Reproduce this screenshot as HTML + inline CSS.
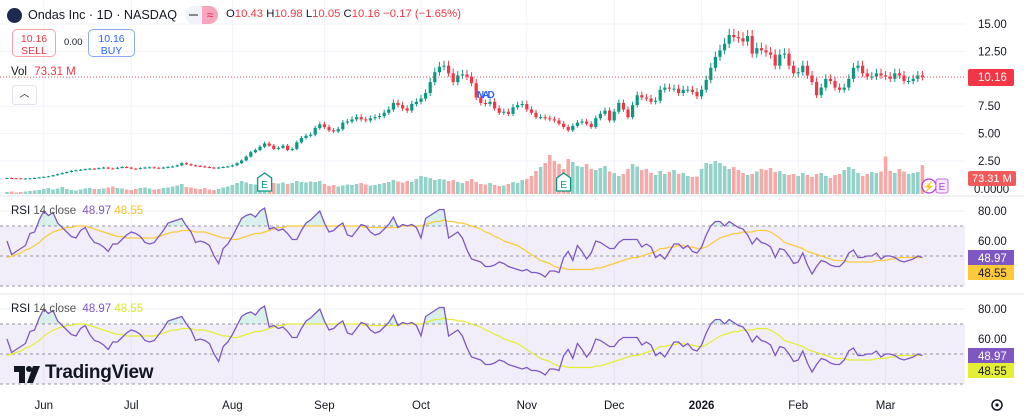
<!DOCTYPE html>
<html><head><meta charset="utf-8"><style>
html,body{margin:0;padding:0;background:#fff;}
body{width:1024px;height:417px;overflow:hidden;position:relative;font-family:"Liberation Sans",sans-serif;color:#131722;}
.abs{position:absolute;}
</style></head><body>
<svg id="chart" width="1024" height="417" viewBox="0 0 1024 417" xmlns="http://www.w3.org/2000/svg" style="position:absolute;left:0;top:0;font-family:'Liberation Sans',sans-serif;">
<g id="grid"></g>
<g id="vol"></g>
<g id="candles"></g>
<g id="rsi1"></g>
<g id="rsi2"></g>
<g id="axes"></g>
</svg>

<div class="abs" style="left:7px;top:8px;width:15px;height:15px;border-radius:50%;background:#1b2a4e;"></div>
<div class="abs" style="left:28px;top:8px;font-size:12.6px;color:#131722;white-space:nowrap;">Ondas Inc · 1D · NASDAQ</div>
<div class="abs" style="left:185px;top:6px;width:33px;height:18px;border-radius:9px;background:#f0f3fa;overflow:hidden;">
 <div style="position:absolute;right:0;top:0;width:16px;height:18px;background:#f7a5bd;color:#e91e63;font-size:12px;text-align:center;line-height:18px;">≈</div>
 <div style="position:absolute;left:4px;top:8px;width:9px;height:2px;background:#888;"></div>
</div>
<div class="abs" style="left:226px;top:8px;font-size:11.3px;color:#f23645;white-space:nowrap;">
<span style="color:#131722">O</span>10.43 <span style="color:#131722">H</span>10.98 <span style="color:#131722">L</span>10.05 <span style="color:#131722">C</span>10.16 −0.17 (−1.65%)</div>
<div class="abs" style="left:12px;top:29px;width:44px;height:28px;border:1px solid #f7a0a8;border-radius:5px;color:#f23645;font-size:10.5px;text-align:center;line-height:12px;padding-top:3px;box-sizing:border-box;">10.16<br>SELL</div>
<div class="abs" style="left:64px;top:37px;font-size:9.5px;color:#131722;">0.00</div>
<div class="abs" style="left:88px;top:29px;width:47px;height:28px;border:1px solid #8fa8f5;border-radius:5px;color:#2962ff;font-size:10.5px;text-align:center;line-height:12px;padding-top:3px;box-sizing:border-box;">10.16<br>BUY</div>
<div class="abs" style="left:11px;top:66px;font-size:11.5px;"><span style="color:#131722">Vol</span> <span style="color:#f23645;margin-left:4px">73.31 M</span></div>
<div class="abs" style="left:12px;top:85px;width:23px;height:18px;border:1px solid #e0e3eb;border-radius:3px;font-size:10px;text-align:center;line-height:18px;">︿</div>
<div class="abs" style="left:11px;top:205px;font-size:11.5px;white-space:nowrap;"><span>RSI</span> <span style="color:#555">14 close</span> <span style="color:#7e57c2;margin-left:3px">48.97</span> <span style="color:#f7c325">48.55</span></div>
<div class="abs" style="left:11px;top:303px;font-size:11.5px;white-space:nowrap;"><span>RSI</span> <span style="color:#555">14 close</span> <span style="color:#7e57c2;margin-left:3px">48.97</span> <span style="color:#dde82c">48.55</span></div>
<div class="abs" style="left:14px;top:362px;height:24px;">
 <svg width="26" height="18" style="position:absolute;left:0;top:4px"><rect x="0" y="0" width="11" height="6" fill="#131722"/><rect x="5" y="0" width="6" height="17" fill="#131722"/><circle cx="15" cy="3" r="3" fill="#131722"/><polygon points="19,0 26,0 19,17 13,17" fill="#131722"/></svg>
 <span style="position:absolute;left:31px;top:0;font-size:19px;font-weight:bold;color:#131722;white-space:nowrap;letter-spacing:-0.3px;">TradingView</span>
</div>
<div class="abs" style="left:477px;top:90px;font-size:10px;color:#2962ff;font-weight:bold;letter-spacing:-2px;">NAD</div>

<script>
// ---------- DATA ----------
const prevClose = 0.94;
const closes = [
0.95,0.93,0.92,0.9,0.9,0.92,0.95,1.0,1.05,1.1,
1.2,1.3,1.4,1.5,1.6,1.65,1.7,1.75,1.8,1.78,
1.85,1.9,1.82,1.8,1.88,1.95,1.9,1.8,1.78,1.85,
1.9,1.92,1.88,1.85,1.9,1.95,2.0,2.1,2.3,2.2,
2.1,2.05,2.0,1.95,1.9,1.85,1.9,1.95,2.0,2.1,
2.3,2.55,2.9,3.3,3.5,3.8,4.1,3.9,3.6,3.7,
3.9,3.5,3.6,4.2,4.6,4.8,4.9,5.5,5.85,5.6,
5.3,5.2,5.4,6.0,6.1,6.3,6.5,6.3,6.2,6.4,
6.5,6.6,6.9,7.2,7.8,7.6,7.3,7.1,7.7,7.9,
8.2,8.7,9.7,10.6,11.1,11.2,10.5,9.7,10.3,10.4,
10.2,9.6,8.3,7.8,7.7,7.9,7.3,6.9,7.0,6.8,
7.4,7.6,7.7,7.2,6.9,6.5,6.5,6.4,6.3,6.2,
5.9,5.6,5.3,5.7,6.0,6.1,5.9,5.6,6.4,6.8,
7.1,6.2,7.0,7.8,7.2,6.5,7.6,8.5,8.3,8.2,
7.9,8.0,9.0,9.2,9.1,9.1,8.7,9.0,9.0,8.8,
8.4,9.0,9.9,11.0,12.0,12.6,13.2,14.0,13.8,13.7,
13.4,13.9,12.3,12.8,12.6,12.4,12.2,11.2,12.2,12.3,
11.2,10.5,10.6,11.2,10.3,9.7,8.5,9.2,10.0,9.8,
9.2,9.0,9.2,10.0,11.0,11.2,10.5,10.2,10.2,10.5,
10.3,10.2,10.0,10.5,10.3,9.8,9.8,10.0,10.3,10.16];
const volumes = [
8,10,6,8,10,12,14,16,20,24,18,22,28,20,16,14,18,22,24,20,
20,22,26,30,24,22,18,16,20,24,26,22,18,20,24,26,30,34,40,28,
26,22,20,24,18,16,20,26,30,36,44,52,46,40,38,48,56,50,44,42,
46,40,44,52,48,46,50,48,52,40,32,36,30,34,38,36,40,44,38,34,
36,40,44,48,56,50,46,52,48,60,72,68,64,56,60,58,52,56,48,44,
52,60,48,40,38,44,36,32,34,40,48,44,56,60,72,92,108,124,156,132,
120,100,140,128,112,108,120,100,96,104,112,90,84,72,80,100,120,110,96,100,
84,76,92,80,88,96,80,84,72,68,70,100,124,120,132,124,112,100,108,96,
84,76,80,90,100,96,104,88,92,80,76,80,72,84,76,68,80,84,72,64,
76,80,96,108,100,84,72,80,88,84,90,150,92,84,100,90,80,84,88,116];
const rsiValues = [
60,51,53,55,57,65,66,74,80,77,
79,72,69,66,63,62,67,69,63,59,
58,56,53,58,58,61,64,66,65,63,
59,58,59,63,67,72,73,74,75,70,
66,59,60,59,57,50,45,55,58,63,
69,75,77,78,76,80,82,68,69,67,
68,65,61,61,67,72,74,77,80,72,
66,67,70,72,64,63,67,71,70,66,
64,65,68,71,76,69,71,70,71,69,
62,75,77,79,81,81,62,64,66,62,
54,48,47,46,43,43,44,46,45,43,
42,41,40,41,39,39,38,36,40,40,
39,49,53,47,57,53,48,52,60,59,
57,55,55,59,61,61,61,61,56,58,
56,49,51,48,53,58,58,55,57,53,
52,56,64,70,73,73,70,73,71,69,
68,64,58,62,59,58,56,49,55,54,
50,45,46,52,44,38,43,47,46,44,
43,43,46,52,54,49,49,50,50,52,
48,50,50,49,47,46,47,48,50,49];
const rsiMaValues = [
49,50,51,52,54,55,57,59,62,64,
66,67,68,69,69,70,70,70,69,68,
67,66,65,64,63,63,62,62,62,62,
62,62,62,63,64,65,66,66,67,67,
67,66,66,66,65,64,63,62,62,61,
61,62,63,64,65,65,66,67,68,69,
69,70,70,70,70,70,70,70,70,70,
70,70,70,70,70,70,70,70,69,69,
69,69,69,69,69,69,70,70,70,70,
70,71,72,73,73,74,73,73,72,72,
71,70,69,68,66,65,63,62,60,59,
58,57,55,53,51,49,47,46,45,43,
42,42,41,41,41,41,41,41,42,42,
43,44,45,46,47,48,49,49,50,51,
52,53,55,55,56,56,57,57,56,56,
55,55,56,58,60,62,63,64,65,65,
66,66,66,67,67,67,66,64,62,59,
58,57,56,55,53,52,51,50,49,48,
47,47,47,46,46,46,46,46,46,47,
47,47,48,48,49,49,49,49,49,49];
const priceTicks = ["15.00","12.50","7.50","5.00","2.50"];
const priceTickValues = [15,12.5,7.5,5,2.5];
const rsiTickLabels = ["80.00","60.00"];
const rsiTickValues = [80,60];
const monthLabels = ["Jun","Jul","Aug","Sep","Oct","Nov","Dec","2026","Feb","Mar"];
const monthIndex = [8,27,49,69,90,113,132,151,172,191];

// ---------- SCALES ----------
const NS="http://www.w3.org/2000/svg";
const xOf = i => 7 + i*4.6;
const yPrice = p => 24 + (15-p)*10.96;
const yVol = v => 194 - v*0.25;
const yR1 = v => 211 + (80-v)*1.5;
const yR2 = v => 309 + (80-v)*1.5;
function mk(tag, attrs, parent){const e=document.createElementNS(NS,tag);for(const k in attrs)e.setAttribute(k,attrs[k]);parent.appendChild(e);return e;}

const grid=document.getElementById('grid'), axes=document.getElementById('axes');
monthIndex.forEach(mi=>{
  const l=mk('line',{x1:xOf(mi),x2:xOf(mi),y1:0,y2:392,stroke:'#f0f3fa','stroke-width':1},grid);
  
  
});
priceTickValues.forEach(v=>{
  const l=mk('line',{x1:0,x2:965,y1:yPrice(v),y2:yPrice(v),stroke:'#f0f3fa'},grid);
  
  
});
[yR1,yR2].forEach(f=>{
  const band=mk('rect',{x:0,y:f(70),width:965,height:f(30)-f(70),fill:'rgba(126,87,194,0.1)'},grid);
  
  
  [80,60].forEach(v=>mk('line',{x1:0,x2:965,y1:f(v),y2:f(v),stroke:'#eef0f6'},grid));
  [70,50,30].forEach(v=>{
    const d=mk('line',{x1:0,x2:965,y1:f(v),y2:f(v),stroke:'#9598a1','stroke-dasharray':'3,3','stroke-width':1},grid);
    
    
  });
});
mk('line',{x1:0,x2:1024,y1:196,y2:196,stroke:'#e0e3eb'},grid);
mk('line',{x1:0,x2:1024,y1:294,y2:294,stroke:'#e0e3eb'},grid);

const volG=document.getElementById('vol');
volumes.forEach((v,i)=>{
  const prev = i===0 ? prevClose : closes[i-1];
  const up = closes[i]>=prev;
  const r=mk('rect',{x:xOf(i)-1.8,y:yVol(v),width:3.6,height:194-yVol(v),fill:up?'#92d2c8':'#f7a9a7'},volG);
  
  
});

const cg=document.getElementById('candles');
closes.forEach((c,i)=>{
  const o = i===0 ? prevClose : closes[i-1];
  const up=c>=o, col=up?'#089981':'#f23645';
  const hi=Math.max(o,c), lo=Math.min(o,c);
  const wick=mk('line',{x1:xOf(i),x2:xOf(i),y1:yPrice(hi+0.04*hi),y2:yPrice(lo-0.03*lo),stroke:col,'stroke-width':1},cg);
  
  
  const yt=yPrice(hi), yb=yPrice(lo);
  const b=mk('rect',{x:xOf(i)-1.6,y:yt,width:3.2,height:Math.max(1,yb-yt),fill:col},cg);
  
  
});
const lp=mk('line',{x1:0,x2:965,y1:yPrice(closes[closes.length-1]),y2:yPrice(closes[closes.length-1]),stroke:'#f23645','stroke-dasharray':'1,2','stroke-width':0.8},cg);



function drawRsi(gid,f,maCol){
  const g=document.getElementById(gid);
  const pts=rsiValues.map((v,i)=>xOf(i)+','+f(v)).join(' ');
  const clipId='clip'+gid;
  const cp=mk('clipPath',{id:clipId},g);mk('rect',{x:0,y:0,width:965,height:f(70)},cp);
  const area=mk('polygon',{points:xOf(0)+','+f(70)+' '+pts+' '+xOf(rsiValues.length-1)+','+f(70),fill:'rgba(8,153,129,0.15)','clip-path':'url(#'+clipId+')'},g);
  
  
  const ma=mk('polyline',{points:rsiMaValues.map((v,i)=>xOf(i)+','+f(v)).join(' '),fill:'none',stroke:maCol,'stroke-width':1.2},g);
  
  
  const ln=mk('polyline',{points:pts,fill:'none',stroke:'#7e57c2','stroke-width':1.3},g);
  
  
  rsiTickValues.forEach((v,k)=>{
    const t=mk('text',{x:978,y:f(v)+4,'font-size':11.5,fill:'#131722'},g);t.textContent=rsiTickLabels[k];
    
    
  });
  const r1=mk('rect',{x:968,y:f(50)-6,width:46,height:15,fill:'#7e57c2'},g);
  
  
  const t1=mk('text',{x:978,y:f(50)+6,'font-size':11.5,fill:'#fff'},g);t1.textContent='48.97';
  const r2=mk('rect',{x:968,y:f(50)+9,width:46,height:15,fill:maCol},g);
  
  
  const t2=mk('text',{x:978,y:f(50)+21,'font-size':11.5,fill:'#131722'},g);t2.textContent='48.55';
}
drawRsi('rsi1',yR1,'#fbc93a');
drawRsi('rsi2',yR2,'#e3ee35');

priceTickValues.forEach((v,k)=>{
  const t=mk('text',{x:978,y:yPrice(v)+4,'font-size':11.5,fill:'#131722'},axes);t.textContent=priceTicks[k];
  
  
});
const z=mk('text',{x:974,y:193,'font-size':11.5,fill:'#131722'},axes);z.textContent='0.0000';
const pl=mk('rect',{x:968,y:yPrice(10.16)-8,width:46,height:17,fill:'#f23645',rx:2},axes);


const plt=mk('text',{x:978,y:yPrice(10.16)+4,'font-size':11.5,fill:'#fff'},axes);plt.textContent='10.16';
const vl=mk('rect',{x:968,y:171,width:48,height:15,fill:'#f05a5a',rx:2},axes);


const vlt=mk('text',{x:972,y:182,'font-size':11,fill:'#fff'},axes);vlt.textContent='73.31 M';
monthLabels.forEach((m,k)=>{
  const t=mk('text',{x:xOf(monthIndex[k]),y:409,'font-size':11.5,fill:'#131722','text-anchor':'middle','font-weight':m==='2026'?'bold':'normal'},axes);t.textContent=m;
  
  
});
[[56,'#089981'],[121,'#089981']].forEach(([i,c])=>{
  const x=xOf(i);
  const p=mk('path',{d:`M${x-7},${178} L${x},${173} L${x+7},${178} L${x+7},${191} L${x-7},${191} Z`,fill:'#fff',stroke:c,'stroke-width':1.3},axes);
  
  
  const t=mk('text',{x:x,y:188,'font-size':10,fill:c,'text-anchor':'middle'},axes);t.textContent='E';
});
const ec=mk('circle',{cx:929,cy:186,r:7,fill:'#fff',stroke:'#b03fd6','stroke-width':1.3},axes);


const et=mk('text',{x:929,y:190,'font-size':10,fill:'#b03fd6','text-anchor':'middle'},axes);et.textContent='⚡';
const er=mk('rect',{x:936,y:179,width:12,height:14,fill:'#f6e8fc',stroke:'#c56be0',rx:2},axes);


const ert=mk('text',{x:942,y:190,'font-size':10,fill:'#b03fd6','text-anchor':'middle'},axes);ert.textContent='E';
const gear=mk('circle',{cx:997,cy:405,r:5,fill:'none',stroke:'#131722','stroke-width':1.5},axes);


mk('circle',{cx:997,cy:405,r:1.6,fill:'#131722'},axes);
</script>
</body></html>
